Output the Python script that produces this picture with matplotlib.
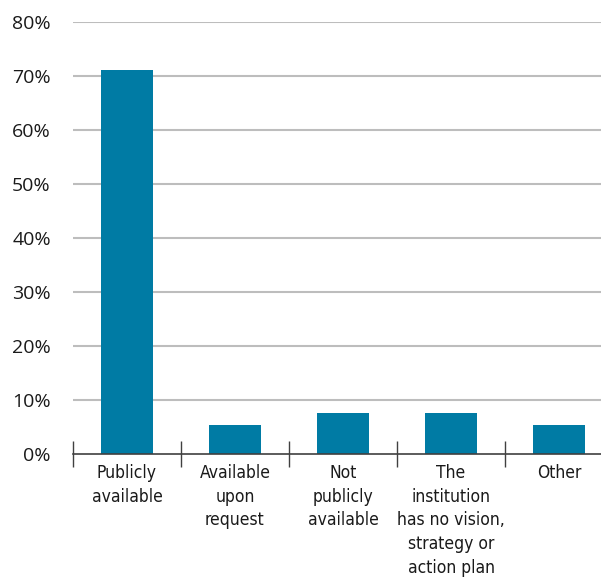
import matplotlib
matplotlib.use("Agg")
import matplotlib.pyplot as plt

categories = ["Publicly\navailable", "Available\nupon\nrequest", "Not\npublicly\navailable",
              "The\ninstitution\nhas no vision,\nstrategy or\naction plan", "Other"]
values = [71.2, 5.4, 7.6, 7.6, 5.4]
yticks = [0, 10, 20, 30, 40, 50, 60, 70, 80]

plt.rcParams['font.family'] = ["Open Sans", "DejaVu Sans"]

fig = plt.figure(figsize=(6.01, 5.77), dpi=100)
ax = fig.add_axes([73/601, 1 - 454/577, 540/601, 432/577])

x = range(len(categories))
ax.bar(x, values, width=0.49, color="#007ba4", zorder=3)

ax.set_xlim(-0.5, len(categories) - 0.5)
ax.set_ylim(0, 80)
ax.set_yticks(yticks)
ax.set_yticklabels([f"{v}%" for v in yticks], fontsize=14, color="#1a1a1a")
ax.tick_params(axis="y", length=0, pad=16)
for v in yticks[1:]:
    ax.axhline(v, color="#bdbdbd", lw=1.5, zorder=1)

ax.set_xticks(list(x))
ax.set_xticklabels(categories, fontsize=12.5, family=["DejaVu Sans"], fontstretch="condensed",
                   color="#1a1a1a", linespacing=1.42)
ax.tick_params(axis="x", which="major", length=0, pad=7)
ax.set_xticks([i - 0.5 for i in range(len(categories) + 1)], minor=True)
ax.tick_params(axis="x", which="minor", direction="inout", length=19, width=1, color="#404040")

for s in ["top", "right", "left"]:
    ax.spines[s].set_visible(False)
ax.spines["bottom"].set_color("#404040")
ax.spines["bottom"].set_linewidth(1.2)
ax.spines["bottom"].set_zorder(4)

fig.savefig("out.png", dpi=100)
